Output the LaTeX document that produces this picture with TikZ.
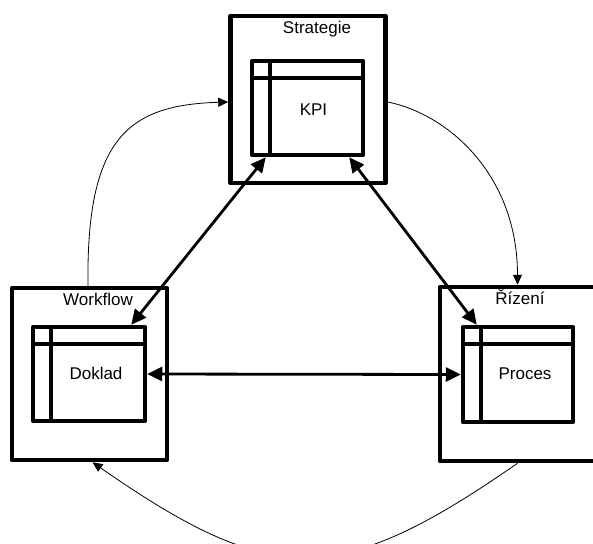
\documentclass[tikz,border=0pt]{standalone}
\usepackage{fontspec}
\setmainfont{Liberation Sans}
\usetikzlibrary{arrows.meta,calc}

\begin{document}
\begin{tikzpicture}[x=1pt, y=-1pt,
  every node/.style={font=\fontsize{17}{20}\selectfont},
  outerbox/.style={draw, line width=4.5pt, line join=round, minimum width=155pt, minimum height=172pt, inner sep=0pt},
  innerbox/.style={draw, line width=4.5pt, line join=round, minimum width=111pt, minimum height=94pt, inner sep=0pt},
  divider/.style={line width=4.5pt},
  link/.style={{Triangle[length=15pt,width=14pt]}-{Triangle[length=15pt,width=14pt]}, line width=2.8pt},
  flow/.style={-{Triangle[length=10pt,width=9pt]}, line width=0.8pt}]
  \useasboundingbox (0,0) rectangle (593,543);
  \clip (0,0) rectangle (593,543);

  % the three blocks
  \node[outerbox, minimum height=167pt] (strat) at (308,99.5) {};
  \node[innerbox] (kpi) at (307.5,108) {};
  \node[outerbox] (wf) at (89.5,374) {};
  \node[innerbox, minimum width=112pt] (dok) at (89,374) {};
  \node[outerbox, minimum height=174pt] (riz) at (517.5,374) {};
  \node[innerbox, minimum width=110pt, minimum height=95pt] (proc) at (518,374.5) {};
  \foreach \b in {kpi,dok,proc} {
    \draw[divider] ([xshift=20pt]\b.north west) -- ([xshift=20pt]\b.south west);
    \draw[divider] ([yshift=-19pt]\b.north west) -- ([yshift=-19pt]\b.north east);
  }

  \node[anchor=base] (stratlbl) at ([xshift=9pt,yshift=-20pt]strat.north) {Strategie};
  \node[anchor=base] (wflbl) at ([xshift=8.5pt,yshift=-20pt]wf.north) {Workflow};
  \node[anchor=base] (rizlbl) at ([xshift=2.5pt,yshift=-20pt]riz.north) {Řízení};
  \node[anchor=base] (kpitxt) at ([xshift=6pt,yshift=-7pt]kpi.center) {KPI};
  \node[anchor=base] (doktxt) at ([xshift=7pt,yshift=-5pt]dok.center) {Doklad};
  \node[anchor=base] (proctxt) at ([xshift=7pt,yshift=-5pt]proc.center) {Proces};

  % links
  \draw[link] ([xshift=16pt]kpi.south west) -- ([xshift=-16pt]dok.north east);
  \draw[link] ([xshift=-16pt]kpi.south east) -- ([xshift=16pt]proc.north west);
  \draw[link] (dok.east) -- (proc.west);

  % cycle
  \draw[flow] ([xshift=-1.5pt]wf.north) .. controls +(-2,-148) and +(-100,3) .. ([yshift=-2.5pt]strat.west);
  \draw[flow] ([yshift=-2.5pt]strat.east) .. controls +(60,12) and +(0,-110) .. (riz.north);
  \draw[flow] (riz.south) .. controls +(-180,125) and +(180,125) .. ([xshift=3pt]wf.south);
\end{tikzpicture}
\end{document}
